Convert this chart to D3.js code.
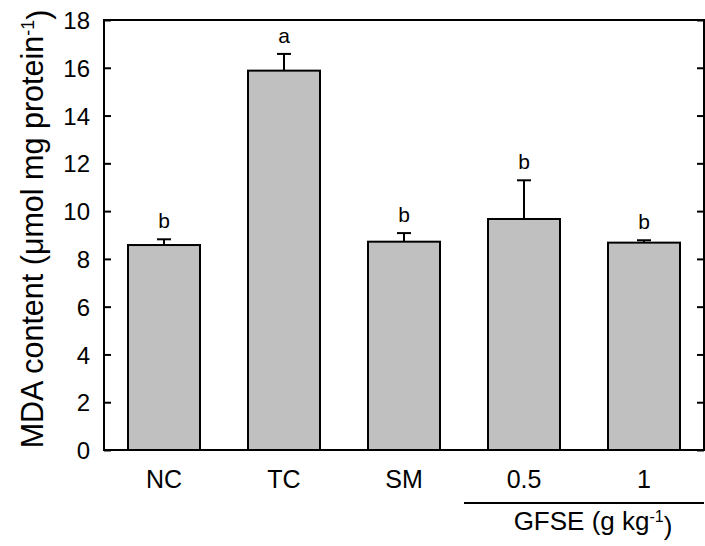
<!DOCTYPE html>
<html>
<head>
<meta charset="utf-8">
<script src="https://cdn.jsdelivr.net/npm/d3@7"></script>
<style>
  html, body { margin: 0; padding: 0; background: #fff; overflow: hidden; }
  svg { display: block; }
  text { font-family: Arial, "Liberation Sans", sans-serif; fill: #000; }
</style>
</head>
<body>
<script>
// data
const groups = ["NC", "TC", "SM", "0.5", "1"];
const means = [8.58, 15.88, 8.72, 9.67, 8.68];
const errors = [0.24, 0.70, 0.36, 1.62, 0.10];
const letters = ["b", "a", "b", "b", "b"];
const yTicks = [0, 2, 4, 6, 8, 10, 12, 14, 16, 18];

const width = 705;
const height = 546;
const margin = { top: 20, right: 1, bottom: 96, left: 104 };
const innerWidth = width - margin.left - margin.right;
const innerHeight = height - margin.top - margin.bottom;

const svg = d3.select("body").append("svg")
  .attr("width", width)
  .attr("height", height);

const g = svg.append("g")
  .attr("transform", `translate(${margin.left}, ${margin.top})`);

const xScale = d3.scaleBand()
  .domain(groups)
  .range([0, innerWidth])
  .paddingInner(0.4)
  .paddingOuter(0.2);

const yScale = d3.scaleLinear()
  .domain([0, 18])
  .range([innerHeight, 0]);

// bars
g.selectAll("rect.bar")
  .data(groups)
  .enter()
  .append("rect")
  .attr("class", "bar")
  .attr("x", (d) => xScale(d))
  .attr("y", (d, i) => yScale(means[i]))
  .attr("width", xScale.bandwidth())
  .attr("height", (d, i) => innerHeight - yScale(means[i]))
  .style("fill", "#c0c0c0")
  .style("stroke", "#000")
  .style("stroke-width", 2);

// error bars (upper only)
const capHalf = 7;
const eb = g.selectAll("g.err")
  .data(groups)
  .enter()
  .append("g")
  .attr("class", "err")
  .style("stroke", "#000")
  .style("stroke-width", 2);
eb.append("line")
  .attr("x1", (d) => xScale(d) + xScale.bandwidth() / 2)
  .attr("x2", (d) => xScale(d) + xScale.bandwidth() / 2)
  .attr("y1", (d, i) => yScale(means[i]))
  .attr("y2", (d, i) => yScale(means[i] + errors[i]));
eb.append("line")
  .attr("x1", (d) => xScale(d) + xScale.bandwidth() / 2 - capHalf)
  .attr("x2", (d) => xScale(d) + xScale.bandwidth() / 2 + capHalf)
  .attr("y1", (d, i) => yScale(means[i] + errors[i]))
  .attr("y2", (d, i) => yScale(means[i] + errors[i]));

// significance letters
g.selectAll("text.sig")
  .data(groups)
  .enter()
  .append("text")
  .attr("class", "sig")
  .attr("x", (d) => xScale(d) + xScale.bandwidth() / 2)
  .attr("y", (d, i) => yScale(means[i] + errors[i]) - 11)
  .attr("text-anchor", "middle")
  .style("font-size", "21px")
  .text((d, i) => letters[i]);

// y axis left, ticks pointing inward
const yAxisG = g.append("g")
  .call(d3.axisLeft(yScale).tickValues(yTicks).tickSizeInner(-7).tickSizeOuter(0).tickPadding(14));
yAxisG.select(".domain").remove();
yAxisG.selectAll("line").style("stroke-width", 2);
yAxisG.selectAll("text").style("font-size", "24px").attr("dy", "0.36em");

// right axis, ticks inward, no labels
const yAxisR = g.append("g")
  .attr("transform", `translate(${innerWidth}, 0)`)
  .call(d3.axisRight(yScale).tickValues(yTicks).tickSizeInner(-7).tickSizeOuter(0).tickFormat(""));
yAxisR.select(".domain").remove();
yAxisR.selectAll("line").style("stroke-width", 2);

// frame
g.append("rect")
  .attr("x", 0)
  .attr("y", 0)
  .attr("width", innerWidth)
  .attr("height", innerHeight)
  .style("fill", "none")
  .style("stroke", "#000")
  .style("stroke-width", 2);

// x axis labels
const xAxisG = g.append("g")
  .attr("transform", `translate(0, ${innerHeight})`)
  .call(d3.axisBottom(xScale).tickSize(0).tickPadding(20));
xAxisG.select(".domain").remove();
xAxisG.selectAll("text").style("font-size", "25px");

// GFSE grouping line and label
const gfseLeft = xScale("0.5") - 24;
g.append("line")
  .attr("x1", gfseLeft)
  .attr("x2", innerWidth)
  .attr("y1", innerHeight + 53)
  .attr("y2", innerHeight + 53)
  .style("stroke", "#000")
  .style("stroke-width", 2);

const gfse = g.append("text")
  .attr("x", xScale("0.5") + xScale.bandwidth() / 2 + 69)
  .attr("y", innerHeight + 80)
  .attr("text-anchor", "middle")
  .style("font-size", "26px");
gfse.append("tspan").text("GFSE (g kg");
gfse.append("tspan").attr("dy", "-0.5em").style("font-size", "16px").text("-1");
gfse.append("tspan").attr("dy", "0.5em").text(")");

// y axis title
const yTitle = svg.append("text")
  .attr("transform", "translate(43, 229) rotate(-90)")
  .attr("text-anchor", "middle")
  .style("font-size", "30.5px");
yTitle.append("tspan").text("MDA content (\u03bcmol mg protein");
yTitle.append("tspan").attr("dy", "-0.5em").style("font-size", "18px").text("-1");
yTitle.append("tspan").attr("dy", "0.5em").text(")");
</script>
</body>
</html>
